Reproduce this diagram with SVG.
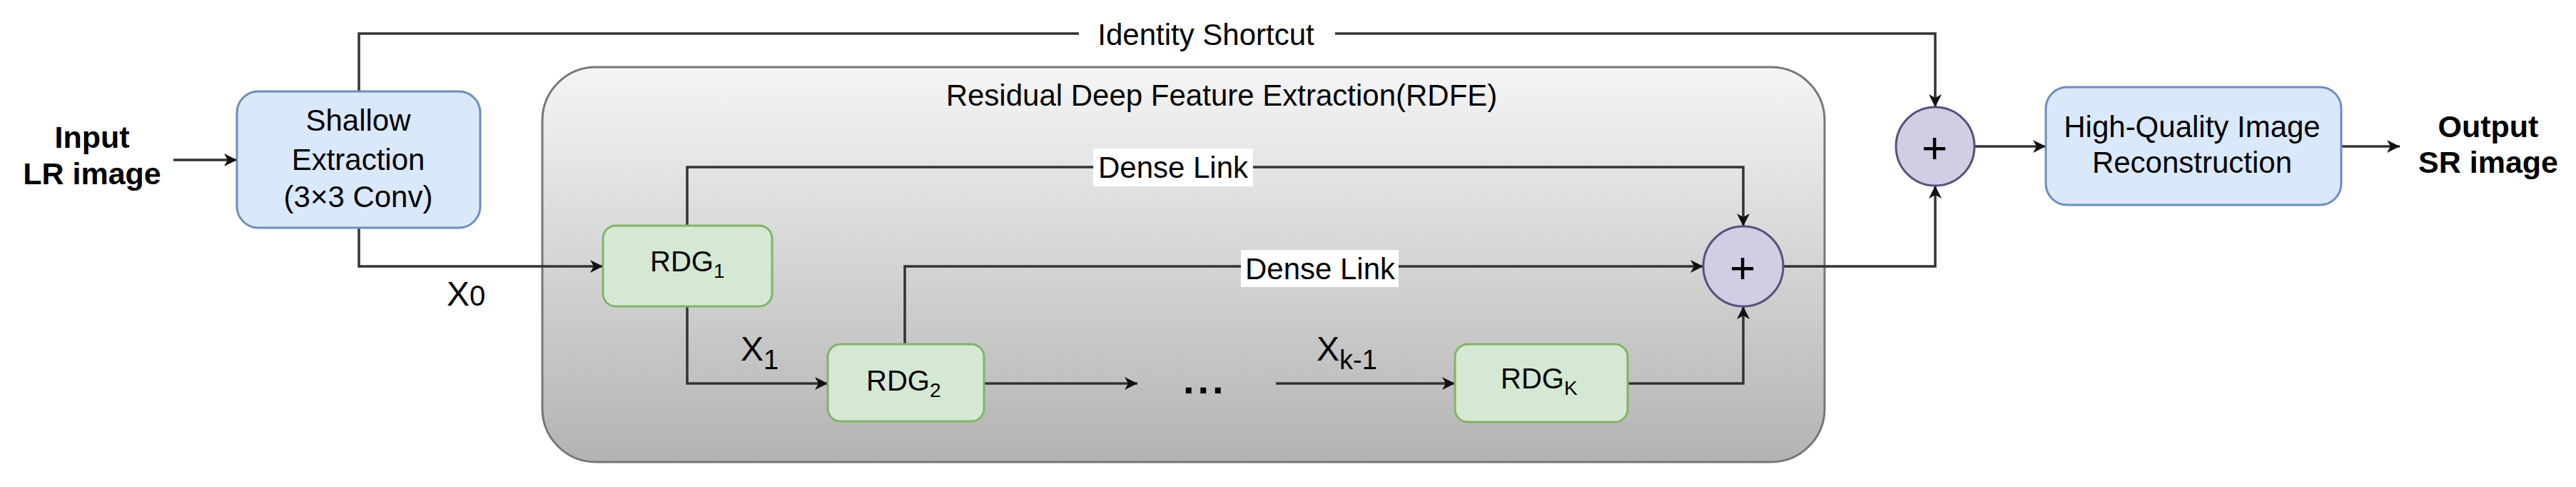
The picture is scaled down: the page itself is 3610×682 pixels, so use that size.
<svg xmlns="http://www.w3.org/2000/svg" width="3610" height="682" viewBox="0 0 3610 682">
<style>
text{font-family:"Liberation Sans",Arial,sans-serif;fill:#000}
.t{font-size:42px;text-anchor:middle}
.b{font-size:43px;font-weight:bold;text-anchor:middle}
.blue{fill:#dae8fc;stroke:#6c8ebf;stroke-width:3}
.green{fill:#d5e8d4;stroke:#82b366;stroke-width:3}
.sum{fill:#d0cee2;stroke:#56517e;stroke-width:3}
.e{fill:none;stroke:#333;stroke-width:3.5;marker-end:url(#arr)}
.n{fill:none;stroke:#333;stroke-width:3.5}
.lbg{fill:#fff}
</style>
<defs>
<linearGradient id="g" x1="0" y1="0" x2="0" y2="1">
<stop offset="0" stop-color="#f5f5f5"/>
<stop offset="1" stop-color="#b3b3b3"/>
</linearGradient>
<marker id="arr" markerUnits="userSpaceOnUse" markerWidth="20" markerHeight="20" refX="18" refY="9" orient="auto">
<path d="M0,0 L18,9 L0,18 L5,9 Z" fill="#111"/>
</marker>
</defs>
<rect width="3610" height="682" fill="#fff"/>

<g id="rdfe">
<rect x="760" y="94" width="1797" height="553" rx="75" fill="url(#g)" stroke="#777" stroke-width="3"/>
<text class="t" x="1712" y="148">Residual Deep Feature Extraction(RDFE)</text>
</g>

<g id="connectors">
<path class="e" d="M243,224 H332"/>
<path class="e" d="M503,128 V47 H2712 V150"/>
<path class="e" d="M503,319 V373 H845"/>
<path class="e" d="M963,316 V234 H2443 V317"/>
<path class="e" d="M963,429 V537 H1160"/>
<path class="e" d="M1268,482 V373 H2387"/>
<path class="e" d="M1379,537 H1594"/>
<path class="e" d="M1788,537 H2039"/>
<path class="e" d="M2281,537 H2443 V429"/>
<path class="e" d="M2499,373 H2712 V260"/>
<path class="e" d="M2767,205 H2867"/>
<path class="e" d="M3281,205 H3363"/>
<rect class="lbg" x="1512" y="26" width="359" height="46"/>
<text class="t" x="1690" y="63">Identity Shortcut</text>
<rect class="lbg" x="1532" y="208" width="224" height="53"/>
<text class="t" x="1644" y="249">Dense Link</text>
<rect class="lbg" x="1739" y="350" width="221" height="52"/>
<text class="t" x="1850" y="391">Dense Link</text>
<text x="626" y="428" style="font-size:48px">X<tspan style="font-size:40px">0</tspan></text>
<text x="1038" y="505" style="font-size:48px">X<tspan style="font-size:38px" dy="12">1</tspan></text>
<text x="1845" y="505" style="font-size:48px">X<tspan style="font-size:38px" dy="12">k-1</tspan></text>
<text x="1658" y="551" style="font-size:56px;font-weight:bold;letter-spacing:5px">...</text>
</g>

<g id="input">
<text class="b" x="129" y="207">Input</text>
<text class="b" x="129" y="258">LR image</text>
</g>

<g id="shallow">
<rect class="blue" x="332" y="128" width="341" height="191" rx="30"/>
<text class="t" x="502" y="183">Shallow</text>
<text class="t" x="502" y="238">Extraction</text>
<text class="t" x="502" y="290">(3×3 Conv)</text>
</g>

<g id="rdg1">
<rect class="green" x="845" y="316" width="237" height="113" rx="18"/>
<text x="911" y="380" style="font-size:40px">RDG<tspan style="font-size:28px" dy="9">1</tspan></text>
</g>

<g id="rdg2">
<rect class="green" x="1160" y="482" width="219" height="108" rx="18"/>
<text x="1214" y="547" style="font-size:40px">RDG<tspan style="font-size:28px" dy="9">2</tspan></text>
</g>

<g id="rdgk">
<rect class="green" x="2039" y="482" width="242" height="109" rx="18"/>
<text x="2103" y="544" style="font-size:40px">RDG<tspan style="font-size:28px" dy="9">K</tspan></text>
</g>

<g id="sum1">
<circle class="sum" cx="2443" cy="373" r="56"/>
<text class="t" x="2442" y="396" style="font-size:62px">+</text>
</g>

<g id="sum2">
<circle class="sum" cx="2712" cy="205" r="55"/>
<text class="t" x="2711" y="228" style="font-size:62px">+</text>
</g>

<g id="hq">
<rect class="blue" x="2867" y="122" width="414" height="165" rx="30"/>
<text class="t" x="3072" y="192">High-Quality Image</text>
<text class="t" x="3072" y="242">Reconstruction</text>
</g>

<g id="output">
<text class="b" x="3487" y="192">Output</text>
<text class="b" x="3487" y="242">SR image</text>
</g>
</svg>
